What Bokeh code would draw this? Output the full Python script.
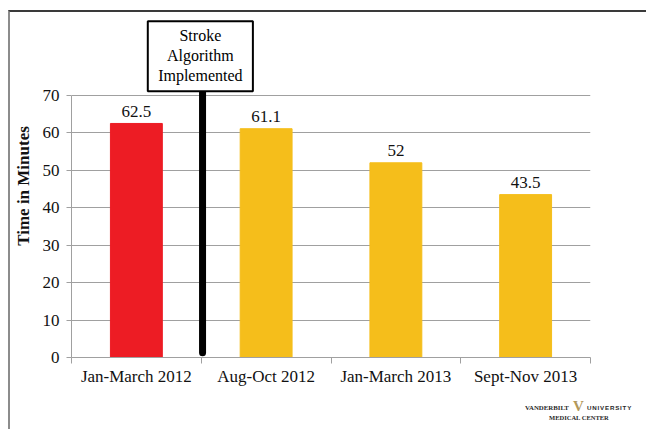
from bokeh.plotting import figure
from bokeh.models import FixedTicker, Range1d, Div
from bokeh.layouts import column
from bokeh.core.properties import value
from bokeh.embed import file_html
from bokeh.resources import INLINE

# ---- data ----
categories = ["Jan-March 2012", "Aug-Oct 2012", "Jan-March 2013", "Sept-Nov 2013"]
minutes = [62.5, 61.1, 52, 43.5]
bar_colors = ["#ED1C24", "#F5BE1B", "#F5BE1B", "#F5BE1B"]
y_ticks = [0, 10, 20, 30, 40, 50, 60, 70]
y_label = "Time in Minutes"
annotation_lines = ["Stroke", "Algorithm", "Implemented"]
logo_top = ["VANDERBILT", "V", "UNIVERSITY"]
logo_bottom = "MEDICAL CENTER"

SERIF = "Liberation Serif"
GRID = "#A0A0A0"

xs = [i + 0.5 for i in range(len(categories))]
bounds = [float(i) for i in range(len(categories) + 1)]

p = figure(width=636, height=383,
           x_range=Range1d(0, len(categories)), y_range=Range1d(0, 91.6),
           output_backend="svg", toolbar_location=None,
           min_border_left=57, min_border_right=56,
           min_border_top=2, min_border_bottom=38)
p.outline_line_color = None
p.xgrid.visible = False
p.ygrid.ticker = FixedTicker(ticks=y_ticks)
p.ygrid.grid_line_color = GRID
p.ygrid.grid_line_width = 1

# bars
p.vbar(x=xs, top=minutes, width=0.4, color=bar_colors)

# value labels
p.text(x=xs, y=minutes, text=[f"{v:g}" for v in minutes],
       text_align="center", text_baseline="alphabetic", y_offset=-12,
       text_font=value(SERIF), text_font_size="17px", text_color="#111111")

# annotation: vertical line and box
line_x = 1.01
p.segment(x0=[line_x], y0=[71.1], x1=[line_x], y1=[1.3],
          line_color="black", line_width=7, line_cap="round")
p.quad(left=[0.588], right=[1.398], top=[89.8], bottom=[71.1],
       fill_color="white", line_color="black", line_width=2)
p.text(x=[0.993] * 3, y=[86.0, 80.7, 75.3], text=annotation_lines,
       text_align="center", text_baseline="middle",
       text_font=value(SERIF), text_font_size="16px", text_color="black")

# y axis
ya = p.yaxis[0]
ya.ticker = FixedTicker(ticks=y_ticks, minor_ticks=[])
ya.bounds = (0, 70)
ya.axis_line_color = GRID
ya.major_tick_line_color = GRID
ya.major_tick_in = 0
ya.major_tick_out = 5
ya.minor_tick_line_color = None
ya.major_label_standoff = 7
ya.major_label_text_font = SERIF
ya.major_label_text_font_size = "17px"
ya.major_label_text_color = "#111111"
ya.axis_label = y_label
ya.axis_label_text_font = SERIF
ya.axis_label_text_font_size = "17px"
ya.axis_label_text_font_style = "bold"
ya.axis_label_text_color = "#111111"
ya.axis_label_standoff = 7

# x axis
xa = p.xaxis[0]
xa.ticker = FixedTicker(ticks=xs, minor_ticks=bounds)
xa.major_label_overrides = {x: c for x, c in zip(xs, categories)}
xa.axis_line_color = GRID
xa.major_tick_line_color = None
xa.major_tick_in = 0
xa.major_tick_out = 0
xa.minor_tick_line_color = GRID
xa.minor_tick_in = 0
xa.minor_tick_out = 6
xa.major_label_standoff = 3
xa.major_label_text_font = SERIF
xa.major_label_text_font_size = "17px"
xa.major_label_text_color = "#111111"

# logo (real text)
sp = "position:absolute; white-space:nowrap; line-height:1;"
logo_html = (
    '<div style="position:relative; width:636px; height:34px;">'
    f'<span style="{sp} left:515px; top:9px; font:bold 6.8px \'Liberation Serif\'; color:#2a2a2a;">{logo_top[0]}</span>'
    f'<span style="{sp} left:563px; top:3px; font:bold 15px \'Liberation Serif\'; color:#B3985A;">{logo_top[1]}</span>'
    f'<span style="{sp} left:577px; top:9px; font:bold 6.2px \'Liberation Sans\'; letter-spacing:0.8px; color:#2a2a2a;">{logo_top[2]}</span>'
    f'<span style="{sp} left:539px; top:19px; font:bold 6.5px \'Liberation Serif\'; color:#2a2a2a;">{logo_bottom}</span>'
    '</div>'
)
logo = Div(text=logo_html, width=636, height=34, margin=0)

layout = column(p, logo, spacing=0)
layout.styles = {"border-top": "2px solid #3a3a3a", "border-left": "2px solid #8c8c8c",
                 "margin-top": "10px", "margin-left": "8px"}

open("out.html", "w").write(file_html(layout, INLINE))
